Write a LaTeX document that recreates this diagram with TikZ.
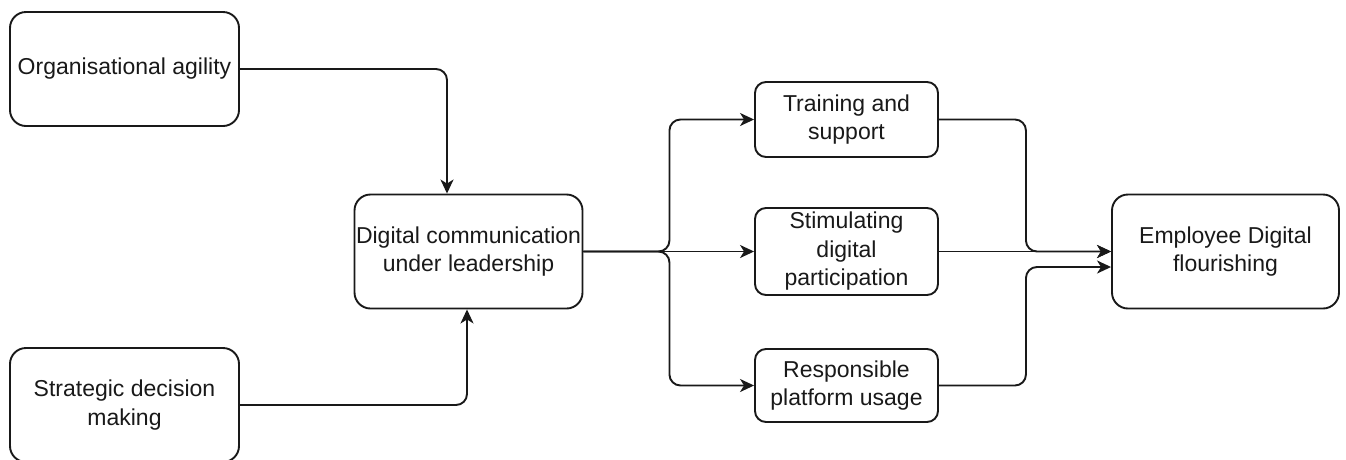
\documentclass[tikz,border=0pt]{standalone}
\usepackage{fontspec}
\setmainfont{Liberation Sans}
\usetikzlibrary{arrows.meta}
\begin{document}
\begin{tikzpicture}[x=1pt,y=-1pt,
  box/.style={draw=black!90, line width=1.9pt, fill=white, rectangle,
    rounded corners=16pt, align=center, inner sep=0pt,
    font=\fontsize{23pt}{28.5pt}\selectfont, text=black!90},
  smallbox/.style={box, rounded corners=11pt},
  link/.style={draw=black!90, line width=1.9pt, rounded corners=11pt},
  arr/.style={link, -{Stealth[length=14pt,width=13pt,inset=4pt]}}]
\useasboundingbox (0,0) rectangle (1346,459);

% left inputs
\node[box, minimum width=229pt, minimum height=114pt] (org) at (124.5,69) {Organisational agility};
\node[box, minimum width=229pt, minimum height=114pt] (strat) at (124.5,405) {Strategic decision\\making};

% central node
\node[box, minimum width=228pt, minimum height=114pt] (dcl) at (468.5,251.5) {Digital communication\\under leadership};

% mediators
\node[smallbox, minimum width=183pt, minimum height=75pt] (train) at (846.5,119.5) {Training and\\support};
\node[smallbox, minimum width=183pt, minimum height=87pt] (stim) at (846.5,251.5) {Stimulating\\digital\\participation};
\node[smallbox, minimum width=183pt, minimum height=73pt] (resp) at (846.5,385.5) {Responsible\\platform usage};

% outcome
\node[box, minimum width=227pt, minimum height=114pt] (edf) at (1225.5,251.5) {Employee Digital\\flourishing};

% inputs into the central node
\draw[arr] (org.east) -| ([xshift=-21.5pt]dcl.north);
\draw[arr] (strat.east) -| ([xshift=-1.5pt]dcl.south);

% central node to mediators
\draw[arr] (dcl.east) -- ++(86,0) |- (train.west);
\draw[arr] (dcl.east) -- (stim.west);
\draw[arr] (dcl.east) -- ++(86,0) |- (resp.west);

% mediators to outcome
\draw[arr] (train.east) -- ++(87,0) |- (edf.west);
\draw[arr] (stim.east) -- (edf.west);
\draw[arr] (resp.east) -- ++(87,0) |- ([yshift=-15.5pt]edf.west);
\end{tikzpicture}
\end{document}
